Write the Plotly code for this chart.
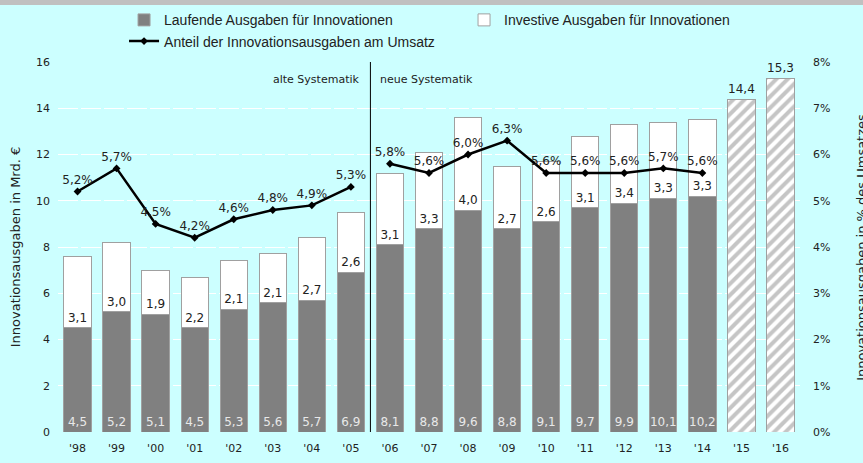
import plotly.graph_objects as go

# Jahre und Werte (Mrd. Euro)
years = ["'98", "'99", "'00", "'01", "'02", "'03", "'04", "'05", "'06", "'07",
         "'08", "'09", "'10", "'11", "'12", "'13", "'14", "'15", "'16"]
laufend = [4.5, 5.2, 5.1, 4.5, 5.3, 5.6, 5.7, 6.9, 8.1, 8.8, 9.6, 8.8, 9.1, 9.7, 9.9, 10.1, 10.2]
investiv = [3.1, 3.0, 1.9, 2.2, 2.1, 2.1, 2.7, 2.6, 3.1, 3.3, 4.0, 2.7, 2.6, 3.1, 3.4, 3.3, 3.3]
plan_years = ["'15", "'16"]
plan_total = [14.4, 15.3]

# Anteil am Umsatz in %
anteil_alt = [5.2, 5.7, 4.5, 4.2, 4.6, 4.8, 4.9, 5.3]
anteil_neu = [5.8, 5.6, 6.0, 6.3, 5.6, 5.6, 5.6, 5.7, 5.6]

FONT = "DejaVu Sans"
tick_font = dict(family=FONT, size=11, color="#222")
label_font = dict(family=FONT, size=12, color="#222")
bar_line = dict(color="#a0a0a0", width=1)

fig = go.Figure()

fig.add_trace(go.Bar(x=years[:17], y=laufend, name="Laufende Ausgaben für Innovationen",
                     marker=dict(color="#808080", line=bar_line),
                     texttemplate="%{y:.1f}", textposition="inside", insidetextanchor="start",
                     textangle=0, textfont=dict(family=FONT, size=12, color="#e8e8e8")))
fig.add_trace(go.Bar(x=years[:17], y=investiv, name="Investive Ausgaben für Innovationen",
                     marker=dict(color="white", line=bar_line),
                     texttemplate="%{y:.1f}", textposition="inside", insidetextanchor="start",
                     textangle=0, textfont=label_font))
fig.add_trace(go.Bar(x=plan_years, y=plan_total, showlegend=False,
                     marker=dict(color="white", line=bar_line,
                                 pattern=dict(shape="/", fgcolor="#8c8c8c", bgcolor="white",
                                              size=8, solidity=0.5)),
                     texttemplate="%{y:.1f}", textposition="outside", textangle=0,
                     textfont=label_font, cliponaxis=False))

line_style = dict(color="black", width=2.5)
fig.add_trace(go.Scatter(x=years[:8], y=anteil_alt, yaxis="y2", mode="lines+markers+text",
                         name="Anteil der Innovationsausgaben am Umsatz",
                         line=line_style, marker=dict(symbol="diamond", size=6, color="black"),
                         texttemplate="%{y:.1f}%", textposition="top center",
                         textfont=label_font, cliponaxis=False))
fig.add_trace(go.Scatter(x=years[8:17], y=anteil_neu, yaxis="y2", mode="lines+markers+text",
                         showlegend=False,
                         line=line_style, marker=dict(symbol="diamond", size=6, color="black"),
                         texttemplate="%{y:.1f}%", textposition="top center",
                         textfont=label_font, cliponaxis=False))

fig.update_layout(
    width=863, height=463,
    margin=dict(l=58, r=63, t=62, b=31, autoexpand=False),
    paper_bgcolor="#ccffff", plot_bgcolor="#ccffff",
    separators=",.",
    barmode="stack", bargap=0.3,
    uniformtext=dict(minsize=12, mode="show"),
    font=dict(family=FONT, size=11, color="#222"),
    legend=dict(orientation="h", x=0.089, xanchor="left", y=1.156, yanchor="top",
                entrywidth=295, traceorder="normal",
                font=dict(family="Liberation Sans Narrow, Liberation Sans", size=14, color="#222"),
                bgcolor="rgba(0,0,0,0)"),
    xaxis=dict(type="category", tickfont=tick_font, showgrid=False, ticks="",
               range=[-0.5, 18.5], ticklabelstandoff=8,
               categoryorder="array", categoryarray=years),
    yaxis=dict(range=[0, 16], dtick=2, tickfont=tick_font, automargin=False,
               ticklabelstandoff=7,
               gridcolor="white", griddash="20px,3px", zeroline=False,
               title=dict(text="Innovationsausgaben in Mrd. €", standoff=12,
                          font=dict(family=FONT, size=13, color="#222"))),
    yaxis2=dict(range=[0, 8], dtick=1, overlaying="y", side="right", showgrid=False,
                automargin=False, ticklabelstandoff=12,
                ticksuffix="%", tickfont=tick_font, zeroline=False),
    shapes=[
        dict(type="rect", xref="paper", yref="paper", x0=-0.1, x1=1.1, y0=1.0 + 57 / 370, y1=1.2,
             fillcolor="#c0c0c0", line=dict(width=0), layer="below"),
        dict(type="line", xref="x", yref="paper", x0=7.5, x1=7.5, y0=0, y1=1,
             line=dict(color="black", width=1)),
    ],
    annotations=[
        dict(text="alte Systematik", x=7.5, xref="x", y=0.975, yref="paper",
             xanchor="right", xshift=-8, showarrow=False, font=dict(family=FONT, size=11, color="#222")),
        dict(text="neue Systematik", x=7.5, xref="x", y=0.975, yref="paper",
             xanchor="left", xshift=8, showarrow=False, font=dict(family=FONT, size=11, color="#222")),
        dict(text="Innovationsausgaben in % des Umsatzes", textangle=-90, x=1.082, xref="paper",
             xanchor="center", y=0.5, yref="paper", showarrow=False,
             font=dict(family=FONT, size=13, color="#222")),
    ],
)

# Seite ohne Standardrand des Browsers, ohne Modebar
fig.write_html("out.html", config={"displayModeBar": False},
               post_script="document.body.style.margin='0';")
